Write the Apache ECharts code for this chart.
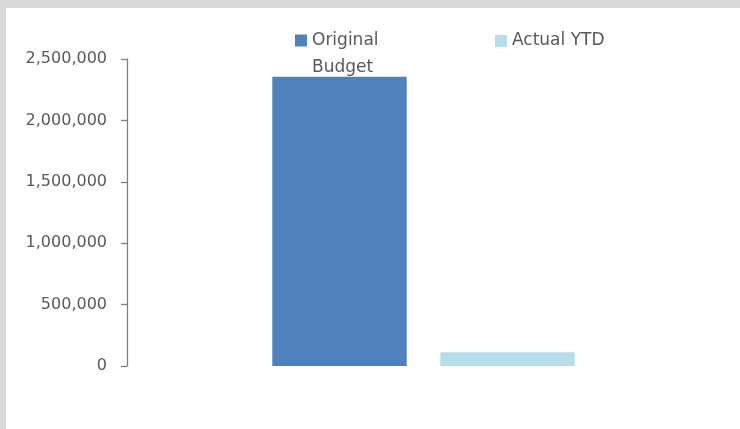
<!DOCTYPE html>
<html>
<head>
<meta charset="utf-8">
<script src="https://cdn.jsdelivr.net/npm/echarts@6/dist/echarts.min.js"></script>
<style>
  html, body { margin: 0; padding: 0; background: #D9D9D9; }
  #frame { position: absolute; left: 6px; top: 8px; width: 734px; height: 421px; background: #FFFFFF; }
  #chart { position: absolute; left: -6px; top: -8px; width: 740px; height: 429px; }
</style>
</head>
<body>
<div id="frame"><div id="chart"></div></div>
<script>
// Budget vs. year-to-date spend
const categories = [''];
const seriesNames = ['Original Budget', 'Actual YTD'];
const originalBudget = [2355000];
const actualYTD = [112000];
const yTicks = [0, 500000, 1000000, 1500000, 2000000, 2500000];

const textColor = '#595959';
const axisColor = '#7F7F7F';
const fontFamily = 'DejaVu Sans';

const chart = echarts.init(document.getElementById('chart'), null, { renderer: 'canvas' });

chart.setOption({
  backgroundColor: 'transparent',
  animation: false,
  grid: { left: 127, right: 20, top: 59, bottom: 63, containLabel: false },
  legend: [
    {
      data: [seriesNames[0]],
      left: 295,
      top: 0,
      padding: 0,
      itemWidth: 12,
      itemHeight: 12,
      icon: 'rect',
      // blank first line keeps the swatch level with the first word
      formatter: function (name) { return '\n' + name.replace(' ', '\n'); },
      textStyle: { color: textColor, fontFamily: fontFamily, fontSize: 17, lineHeight: 27 }
    },
    {
      data: [seriesNames[1]],
      left: 495,
      top: 28,
      padding: 0,
      itemWidth: 12,
      itemHeight: 12,
      icon: 'rect',
      textStyle: { color: textColor, fontFamily: fontFamily, fontSize: 17, lineHeight: 26 }
    }
  ],
  xAxis: {
    type: 'category',
    data: categories,
    axisLine: { show: false },
    axisTick: { show: false },
    axisLabel: { show: false },
    splitLine: { show: false }
  },
  yAxis: {
    type: 'value',
    min: yTicks[0],
    max: yTicks[yTicks.length - 1],
    interval: yTicks[1] - yTicks[0],
    axisLine: { show: true, lineStyle: { color: axisColor, width: 1.3 } },
    axisTick: { show: true, length: 6, lineStyle: { color: axisColor, width: 1.3 } },
    splitLine: { show: false },
    axisLabel: {
      margin: 20,
      color: textColor,
      fontFamily: fontFamily,
      fontSize: 16,
      formatter: function (v) { return v.toLocaleString('en-US'); }
    }
  },
  series: [
    {
      name: seriesNames[0],
      type: 'bar',
      data: originalBudget,
      barGap: '25%',
      barCategoryGap: '49%',
      itemStyle: { color: '#4F81BD' }
    },
    {
      name: seriesNames[1],
      type: 'bar',
      data: actualYTD,
      itemStyle: { color: '#B7DEE8' }
    }
  ]
});
</script>
</body>
</html>
